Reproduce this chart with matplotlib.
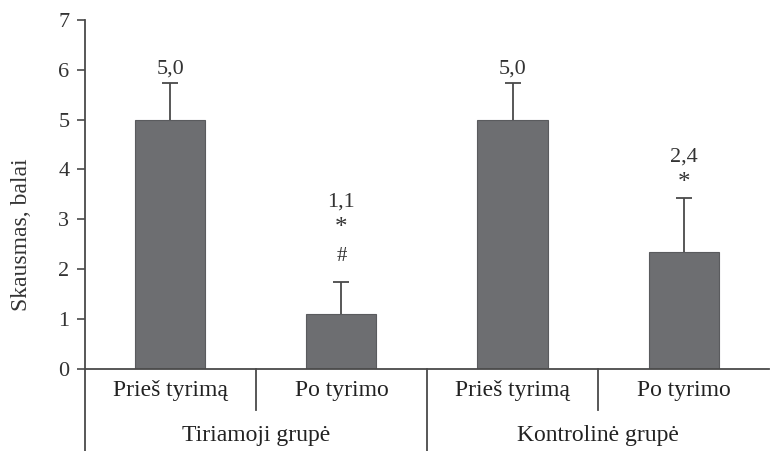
import matplotlib.pyplot as plt
from matplotlib import transforms

# data
categories = ["Prieš tyrimą", "Po tyrimo", "Prieš tyrimą", "Po tyrimo"]
groups = ["Tiriamoji grupė", "Kontrolinė grupė"]
values = [5.0, 1.1, 5.0, 2.35]
errors = [0.74, 0.64, 0.74, 1.07]
value_labels = ["5,0", "1,1", "5,0", "2,4"]
marks = [[], ["*", "#"], [], ["*"]]

plt.rcParams['font.family'] = ['Liberation Serif', 'DejaVu Serif']
gray = "#6d6e71"
line_col = "#4a4a4a"
txt_col = "#333333"

fig = plt.figure(figsize=(7.7, 4.51), dpi=100)
ax = fig.add_axes([0.110, 0.182, 0.889, 0.774])

x = list(range(len(values)))
ax.bar(x, values, width=0.41, color=gray, edgecolor="#5a5b5e", linewidth=0.8, zorder=2)
eb = ax.errorbar(x, values, yerr=[[0] * len(errors), errors], fmt="none",
                 ecolor=line_col, elinewidth=1.3, capsize=6, capthick=1.3, zorder=3)
eb[1][0].set_visible(False)  # no cap at the bar top

# labels above bars: first gap depends on what sits just above the cap
first_gap = {"*": 0.31, "#": 0.52, None: 0.27}
for i in x:
    y = values[i] + errors[i]
    stack = list(reversed(marks[i]))
    y += first_gap[stack[0] if stack else None]
    for m in stack:
        if m == "*":
            ax.text(i, y, m, ha="center", va="center", fontsize=18, color=txt_col)
        else:
            ax.text(i, y, m, ha="center", va="center", fontsize=15, color=txt_col)
        y += 0.56
    ax.text(i, y - 0.04 if stack else y, value_labels[i], ha="center", va="center",
            fontsize=16, color=txt_col)

ax.set_xlim(-0.5, 3.5)
ax.set_ylim(0, 7)
ax.set_yticks(range(8))
ax.set_xticks([])
ax.tick_params(axis="y", direction="out", length=6, width=1.2, color=line_col,
               labelsize=16, labelcolor=txt_col, pad=5)
for s in ["top", "right"]:
    ax.spines[s].set_visible(False)
for s in ["left", "bottom"]:
    ax.spines[s].set_color(line_col)
    ax.spines[s].set_linewidth(1.3)

ax.set_ylabel("Skausmas, balai", fontsize=17, color=txt_col)
ax.yaxis.set_label_coords(-0.077, 0.385)

# category axis with dividers
trans = transforms.blended_transform_factory(ax.transData, ax.transAxes)
ax.plot([-0.5, -0.5], [0, -0.24], transform=trans, color=line_col, lw=1.3, clip_on=False)
for xd, depth in [(0.5, -0.118), (1.5, -0.24), (2.5, -0.118)]:
    ax.plot([xd, xd], [0, depth], transform=trans, color=line_col, lw=1.3, clip_on=False)
for i, c in enumerate(categories):
    ax.text(i, -0.063, c, transform=trans, ha="center", va="center", fontsize=17, color="#222222")
for j, g in enumerate(groups):
    ax.text(2 * j + 0.5, -0.19, g, transform=trans, ha="center", va="center", fontsize=17, color="#222222")

fig.savefig("out.png", dpi=100)
